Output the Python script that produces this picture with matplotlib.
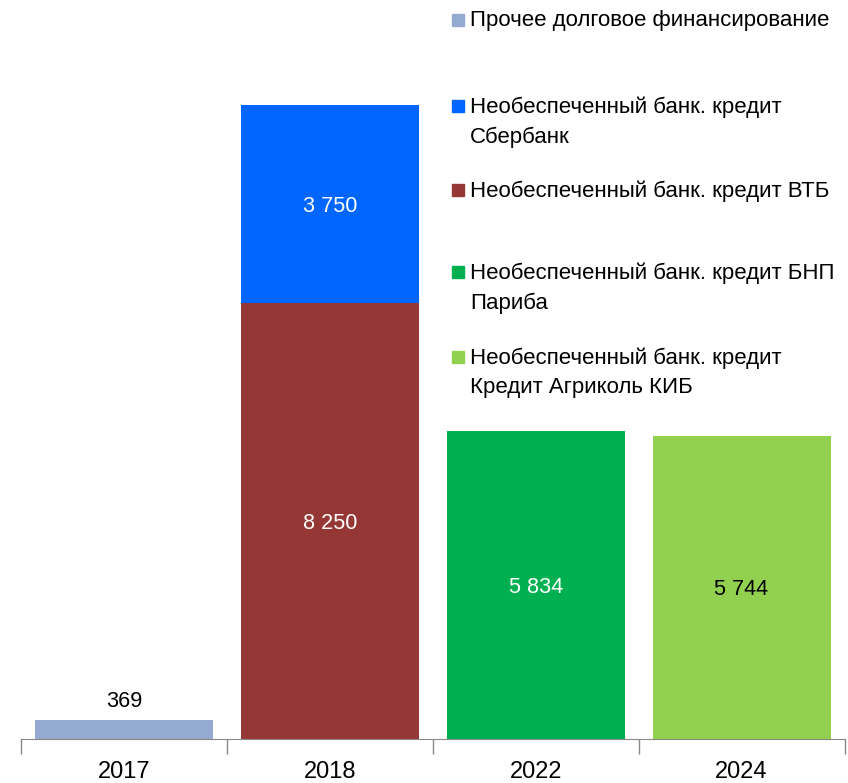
import matplotlib.pyplot as plt
from matplotlib.patches import Rectangle

plt.rcParams['font.family'] = ['Liberation Sans', 'DejaVu Sans']

years = ['2017', '2018', '2022', '2024']
series = ['Прочее долговое финансирование',
          'Необеспеченный банк. кредит\nСбербанк',
          'Необеспеченный банк. кредит ВТБ',
          'Необеспеченный банк. кредит БНП\nПариба',
          'Необеспеченный банк. кредит\nКредит Агриколь КИБ']
colors = ['#95AAD1', '#0066FF', '#953735', '#00B050', '#92D050']

# значения по годам (снизу вверх в стопке)
prochee = [369, 0, 0, 0]
sber = [0, 3750, 0, 0]
vtb = [0, 8250, 0, 0]
bnp = [0, 0, 5834, 0]
agricole = [0, 0, 0, 5744]
label_colors = ['black', 'white', 'white', 'white', 'black']

fig = plt.figure(figsize=(8.48, 7.83), dpi=100)
ax = fig.add_axes([21 / 848, 44 / 783, 823.5 / 848, 739 / 783])

x = range(len(years))
bottom = [0, 0, 0, 0]
stack = [(prochee, 0), (vtb, 2), (sber, 1), (bnp, 3), (agricole, 4)]
for vals, i in stack:
    bars = ax.bar(x, vals, width=0.865, bottom=bottom, color=colors[i])
    for b, v, b0 in zip(bars, vals, bottom):
        if v == 0:
            continue
        txt = f'{v:,}'.replace(',', ' ')
        if v < 1000:
            ax.text(b.get_x() + b.get_width() / 2, b0 + v + 150, txt,
                    ha='center', va='bottom', fontsize=15.6, color=label_colors[i])
        else:
            ax.text(b.get_x() + b.get_width() / 2, b0 + v / 2, txt,
                    ha='center', va='center_baseline', fontsize=15.6, color=label_colors[i])
    bottom = [a + b for a, b in zip(bottom, vals)]

ax.set_xlim(-0.5, 3.5)
ax.set_ylim(0, 13987)
ax.set_xticks([-0.5, 0.5, 1.5, 2.5, 3.5])
ax.set_xticklabels([])
ax.set_xticks(list(x), minor=True)
ax.set_xticklabels(years, minor=True, fontsize=17)
ax.tick_params(axis='x', which='major', length=11, color='#898989', width=1)
ax.tick_params(axis='x', which='minor', length=0, pad=16)
ax.set_yticks([])
for s in ['top', 'right', 'left']:
    ax.spines[s].set_visible(False)
ax.spines['bottom'].set_color('#898989')

# легенда справа, вручную
legend_y = [20, 106, 190, 272, 357]
for lab, col, yy in zip(series, colors, legend_y):
    fig.patches.append(Rectangle((452 / 848, 1 - (yy + 6) / 783), 12 / 848, 12 / 783,
                                 transform=fig.transFigure, color=col))
    fig.text(470 / 848, 1 - (yy - 10) / 783, lab, ha='left', va='top',
             fontsize=16, linespacing=1.55)

plt.savefig('out.png', dpi=100)
